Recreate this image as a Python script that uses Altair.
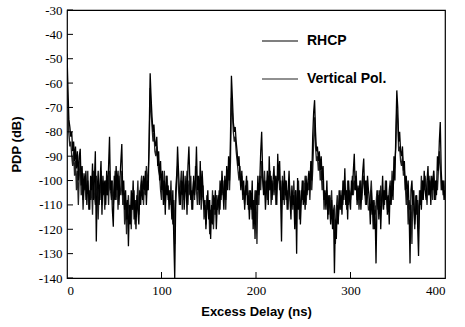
import altair as alt
import pandas as pd

delay_ns = list(range(0, 401))

rhcp_db = [
    -48, -62, -75, -78, -82, -80, -88, -84, -92, -86,
    -95, -88, -100, -90, -87, -102, -94, -108, -97, -104,
    -96, -110, -100, -106, -112, -98, -104, -93, -108, -100,
    -88, -125, -104, -96, -110, -100, -92, -114, -98, -106,
    -100, -110, -96, -106, -94, -82, -104, -100, -112, -119,
    -98, -108, -94, -104, -96, -110, -100, -92, -85, -106,
    -100, -112, -104, -116, -108, -127, -110, -118, -104, -112,
    -100, -116, -108, -120, -106, -112, -118, -104, -110, -100,
    -108, -98, -104, -96, -110, -100, -104, -80, -56, -66,
    -74, -80, -77, -84, -86, -82, -94, -88, -100, -92,
    -104, -96, -110, -100, -114, -98, -106, -102, -112, -104,
    -108, -116, -104, -124, -140, -110, -100, -86, -96, -104,
    -110, -100, -106, -96, -112, -104, -100, -114, -94, -86,
    -100, -108, -104, -112, -98, -106, -100, -86, -104, -98,
    -110, -92, -108, -96, -104, -112, -108, -120, -112, -104,
    -116, -108, -124, -110, -118, -106, -112, -104, -120, -110,
    -106, -114, -100, -108, -96, -104, -112, -98, -108, -94,
    -104, -90, -100, -82, -57, -66, -76, -80, -78, -84,
    -88, -94, -90, -98, -104, -96, -106, -100, -112, -104,
    -98, -110, -106, -116, -104, -112, -100, -120, -108, -124,
    -104, -110, -98, -106, -100, -88, -80, -96, -106, -100,
    -112, -104, -96, -110, -90, -104, -98, -108, -100, -94,
    -104, -98, -110, -89, -100, -92, -106, -125, -100, -108,
    -96, -106, -100, -112, -104, -96, -108, -116, -102, -110,
    -106, -120, -104, -130, -99, -112, -104, -118, -108, -100,
    -110, -104, -112, -98, -106, -100, -96, -104, -92, -100,
    -82, -72, -67, -80, -88, -86, -92, -88, -96, -90,
    -100, -94, -108, -104, -112, -100, -116, -106, -110, -118,
    -108, -120, -112, -138, -116, -124, -110, -118, -104, -112,
    -106, -114, -100, -108, -95, -110, -104, -116, -100, -108,
    -112, -100, -106, -96, -89, -104, -98, -110, -102, -108,
    -100, -112, -104, -96, -91, -106, -100, -110, -98, -104,
    -108, -118, -104, -114, -108, -120, -112, -134, -110, -104,
    -116, -104, -120, -108, -98, -112, -104, -108, -100, -114,
    -106, -118, -102, -110, -100, -108, -90, -100, -80, -63,
    -70, -84, -80, -88, -90, -86, -96, -92, -104, -98,
    -108, -100, -112, -134, -104, -100, -110, -104, -118, -112,
    -106, -118, -131, -110, -104, -112, -100, -108, -96, -104,
    -108, -100, -94, -106, -100, -110, -98, -104, -96, -108,
    -100, -106, -90, -96, -84, -76, -96, -104, -100, -108,
    -104,
]

vertical_db = [
    -96, -70, -80, -86, -84, -90, -94, -88, -98, -92,
    -104, -96, -110, -98, -92, -106, -100, -112, -104, -98,
    -108, -102, -96, -112, -104, -108, -100, -114, -96, -106,
    -110, -98, -104, -116, -102, -108, -96, -110, -100, -104,
    -112, -100, -106, -98, -110, -96, -104, -108, -100, -110,
    -104, -96, -108, -100, -112, -98, -104, -106, -96, -110,
    -104, -118, -108, -122, -112, -106, -116, -110, -120, -106,
    -112, -104, -118, -108, -110, -100, -114, -106, -102, -98,
    -104, -110, -100, -106, -94, -104, -96, -86, -62, -72,
    -78, -84, -80, -88, -90, -86, -92, -96, -98, -104,
    -108, -100, -104, -96, -110, -102, -98, -108, -104, -110,
    -100, -112, -118, -108, -126, -104, -98, -94, -104, -110,
    -102, -96, -112, -100, -108, -98, -104, -96, -110, -100,
    -106, -98, -112, -104, -100, -108, -94, -104, -110, -100,
    -104, -98, -112, -106, -102, -116, -110, -118, -106, -112,
    -108, -122, -112, -116, -104, -120, -110, -114, -106, -112,
    -110, -104, -112, -102, -106, -100, -108, -102, -112, -98,
    -100, -96, -104, -92, -66, -72, -80, -84, -82, -88,
    -92, -96, -100, -94, -102, -98, -108, -104, -110, -102,
    -106, -100, -112, -104, -110, -106, -116, -108, -112, -104,
    -110, -126, -104, -110, -98, -104, -92, -100, -104, -96,
    -106, -100, -108, -98, -104, -96, -110, -104, -100, -106,
    -98, -110, -104, -100, -96, -104, -100, -112, -98, -104,
    -110, -100, -108, -104, -112, -100, -106, -110, -104, -112,
    -100, -110, -104, -112, -106, -100, -116, -110, -104, -108,
    -100, -106, -98, -110, -102, -104, -100, -108, -98, -104,
    -96, -84, -74, -86, -92, -90, -96, -92, -100, -96,
    -104, -100, -112, -106, -108, -104, -110, -114, -106, -112,
    -104, -116, -112, -110, -126, -112, -106, -116, -110, -104,
    -112, -104, -110, -100, -106, -104, -112, -100, -110, -104,
    -108, -104, -98, -106, -100, -104, -96, -108, -104, -112,
    -106, -100, -108, -102, -98, -104, -110, -100, -106, -112,
    -112, -106, -100, -110, -120, -108, -114, -110, -104, -112,
    -106, -110, -102, -112, -106, -104, -110, -100, -106, -112,
    -110, -104, -100, -108, -96, -104, -98, -92, -86, -70,
    -76, -88, -86, -92, -94, -90, -98, -96, -102, -110,
    -104, -118, -108, -112, -110, -126, -104, -112, -120, -106,
    -114, -108, -120, -104, -110, -98, -108, -100, -104, -98,
    -104, -110, -100, -106, -98, -104, -100, -108, -96, -102,
    -108, -100, -104, -96, -88, -94, -104, -100, -106, -100,
    -108,
]

series_names = ["RHCP", "Vertical Pol."]
y_tick_values = list(range(-140, -29, 10))
x_tick_values = [0, 100, 200, 300, 400]

df = pd.concat([
    pd.DataFrame({"delay": delay_ns, "pdp": vertical_db, "series": series_names[1]}),
    pd.DataFrame({"delay": delay_ns, "pdp": rhcp_db, "series": series_names[0]}),
])

label_font = "Liberation Serif"
title_font = "Liberation Sans"

x_scale = alt.Scale(domain=[0, 400], nice=False)
y_scale = alt.Scale(domain=[-140, -30], nice=False)

x_axis = alt.Axis(title="Excess Delay (ns)", values=x_tick_values, ticks=False,
                  labelPadding=6, grid=False, domain=False, labelOverlap=False,
                  labelFont=label_font, labelFontSize=13, labelColor="black",
                  labelExpr="'' + datum.value",
                  titleFont=title_font, titleFontSize=13, titleFontWeight="bold",
                  titleColor="black", titlePadding=8)
y_axis = alt.Axis(title="PDP (dB)", values=y_tick_values, ticks=False,
                  labelPadding=5, grid=False, domain=False, labelOverlap=False,
                  labelFont=label_font, labelFontSize=13, labelColor="black",
                  labelExpr="'' + datum.value",
                  titleFont=title_font, titleFontSize=13, titleFontWeight="bold",
                  titleColor="black", titleX=-44, titleY=134)

lines = alt.Chart(df).mark_line(strokeWidth=1.3, clip=True).encode(
    x=alt.X("delay:Q", scale=x_scale, axis=x_axis),
    y=alt.Y("pdp:Q", scale=y_scale, axis=y_axis),
    color=alt.Color("series:N",
                    scale=alt.Scale(domain=series_names, range=["black", "#222222"]),
                    legend=alt.Legend(title=None, orient="none", legendX=197, legendY=15,
                                      symbolType="M-1.2,0H1.2", symbolSize=900,
                                      symbolStrokeWidth=1.2, symbolStrokeColor="black",
                                      symbolFillColor="transparent", rowPadding=15,
                                      labelFont=title_font, labelFontSize=14,
                                      labelFontWeight="bold", labelColor="black",
                                      labelOffset=11)),
    order=alt.Order("series:N", sort="descending"),
)

ytick_df = pd.DataFrame({"pdp": y_tick_values})
xtick_df = pd.DataFrame({"delay": x_tick_values[1:-1]})

yticks = alt.Chart(ytick_df).mark_rule(color="black", strokeWidth=1).encode(
    y=alt.Y("pdp:Q", scale=y_scale, axis=y_axis), x=alt.value(0), x2=alt.value(6))
xticks = alt.Chart(xtick_df).mark_rule(color="black", strokeWidth=1).encode(
    x=alt.X("delay:Q", scale=x_scale, axis=x_axis), y=alt.value(268), y2=alt.value(262))

chart = alt.layer(lines, yticks, xticks).properties(
    width=378, height=268,
    autosize=alt.AutoSizeParams(type="none"),
    padding={"left": 67, "top": 10, "right": 20, "bottom": 49},
    background="white",
).configure_view(stroke="black", strokeWidth=1.2)

chart.save("out.html", embed_options={"renderer": "svg", "actions": False})
